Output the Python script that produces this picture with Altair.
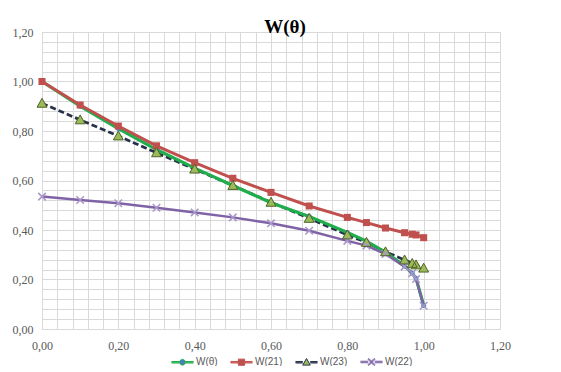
import altair as alt
import pandas as pd

# ---- data ----
theta = [0.00, 0.10, 0.20, 0.30, 0.40, 0.50, 0.60, 0.70, 0.80, 0.85, 0.90, 0.95, 0.97, 0.98, 1.00]
w_theta = [1.000, 0.900, 0.810, 0.725, 0.650, 0.580, 0.510, 0.455, 0.390, 0.355, 0.310, 0.255, 0.225, 0.205, 0.095]
w_21 = [1.000, 0.905, 0.820, 0.740, 0.672, 0.609, 0.552, 0.497, 0.451, 0.430, 0.408, 0.389, 0.383, 0.380, 0.369]
w_23 = [0.912, 0.845, 0.780, 0.712, 0.646, 0.580, 0.512, 0.447, 0.380, 0.350, 0.312, 0.279, 0.265, 0.259, 0.246]
w_22 = [0.535, 0.521, 0.508, 0.490, 0.471, 0.451, 0.427, 0.397, 0.356, 0.337, 0.303, 0.252, 0.225, 0.202, 0.094]

series_names = ["W(θ)", "W(21)", "W(23)", "W(22)"]
series_values = [w_theta, w_21, w_23, w_22]

major_ticks = [0.0, 0.2, 0.4, 0.6, 0.8, 1.0, 1.2]
minor_grid = [round(i * 0.04, 2) for i in range(31)]

line_colors = ["#1fae4b", "#c0504d", "#27324a", "#7f63a6"]
line_widths = [3.2, 2.5, 2.0, 2.5]
marker_fill = ["#4a7ebb", "#c0504d", "#9bbb59", "#a898c8"]

# marker shapes (unit = half of sqrt(size))
EXT = "M-1,0L-1,0M1,0L1,0"
CIRCLE = "M-0.23,0A0.23,0.23 0 1,0 0.23,0A0.23,0.23 0 1,0 -0.23,0Z"
SQUARE = "M-0.32,-0.32L0.32,-0.32L0.32,0.32L-0.32,0.32Z"
TRIANGLE = "M0,-0.45L0.45,0.36L-0.45,0.36Z"
XMARK = ("M-0.29,-0.39L0.39,0.29L0.29,0.39L-0.39,-0.29Z"
         "M-0.39,0.29L0.29,-0.39L0.39,-0.29L-0.29,0.39Z")
marker_paths = [EXT + CIRCLE, EXT + SQUARE, EXT + TRIANGLE, EXT + XMARK]


def legend_line(r):
    segs = ""
    for dy in (-0.07, 0.0, 0.07):
        segs += f"M-1,{dy}L{-r},{dy}M{r},{dy}L1,{dy}"
    return segs


LEG_CIRCLE = "M-0.26,0A0.26,0.26 0 1,0 0.26,0A0.26,0.26 0 1,0 -0.26,0Z"
LEG_SQUARE = "M-0.28,-0.28L0.28,-0.28L0.28,0.28L-0.28,0.28Z"
LEG_TRIANGLE = "M0,-0.34L0.34,0.26L-0.34,0.26Z"
LEG_X = ("M-0.24,-0.32L0.32,0.24L0.24,0.32L-0.32,-0.24Z"
         "M-0.32,0.24L0.24,-0.32L0.32,-0.24L-0.24,0.32Z")
legend_paths = [legend_line(0.26) + LEG_CIRCLE,
                legend_line(0.28) + LEG_SQUARE,
                legend_line(0.34) + LEG_TRIANGLE,
                legend_line(0.30) + LEG_X]

rows = []
for name, vals in zip(series_names, series_values):
    for t, v in zip(theta, vals):
        rows.append({"x": t, "y": v, "series": name})
df = pd.DataFrame(rows)

label_expr = "replace(format(datum.value, '.2f'), '.', ',')"

grid_color = "#d9d9d9"
label_font = "Liberation Serif"
xs = alt.Scale(domain=[0, 1.2], nice=False)
ys = alt.Scale(domain=[0, 1.2], nice=False)

major_x = alt.Axis(values=major_ticks, labelExpr=label_expr, title=None, orient="bottom",
                   grid=True, gridColor=grid_color, ticks=False, domainColor=grid_color,
                   labelFont=label_font, labelFontSize=12, labelColor="#595959",
                   labelPadding=11, labelFlush=False, labelOverlap=False)
major_y = alt.Axis(values=major_ticks, labelExpr=label_expr, title=None, orient="left",
                   grid=True, gridColor=grid_color, ticks=False, domainColor=grid_color,
                   labelFont=label_font, labelFontSize=12, labelColor="#595959",
                   labelPadding=9, labelOverlap=False, labelFlush=False)
minor_x = alt.Axis(values=minor_grid, labels=False, ticks=False, domain=False, title=None,
                   orient="bottom", grid=True, gridColor=grid_color)
minor_y = alt.Axis(values=minor_grid, labels=False, ticks=False, domain=False, title=None,
                   orient="left", grid=True, gridColor=grid_color)

SYM = 484
leg = alt.Legend(orient="none", legendX=129, legendY=318, direction="horizontal",
                 title=None, symbolSize=SYM, symbolStrokeWidth=1, symbolOpacity=1,
                 symbolFillColor="#ffffff", symbolStrokeColor="#000000",
                 labelFont="Liberation Sans", labelFontSize=10, labelColor="#595959",
                 labelOffset=2, columnPadding=10)

color_scale = alt.Scale(domain=series_names, range=line_colors)
width_scale = alt.Scale(domain=series_names, range=line_widths)

dashed_line = alt.Chart(df).transform_filter(alt.datum.series == "W(23)").mark_line(
    strokeDash=[6, 3]
).encode(
    x=alt.X("x:Q", scale=xs, axis=major_x),
    y=alt.Y("y:Q", scale=ys, axis=major_y),
    color=alt.Color("series:N", scale=color_scale, legend=None),
    strokeWidth=alt.StrokeWidth("series:N", scale=width_scale, legend=None),
    order="x:Q",
)

solid_lines = alt.Chart(df).transform_filter(alt.datum.series != "W(23)").mark_line().encode(
    x=alt.X("x:Q", scale=xs),
    y=alt.Y("y:Q", scale=ys),
    color=alt.Color("series:N", scale=color_scale, legend=None),
    strokeWidth=alt.StrokeWidth("series:N", scale=width_scale, legend=None),
    order="x:Q",
)

points = alt.Chart(df).mark_point(filled=True, opacity=1, size=SYM, strokeWidth=0).encode(
    x=alt.X("x:Q", scale=xs, axis=minor_x),
    y=alt.Y("y:Q", scale=ys, axis=minor_y),
    fill=alt.Fill("series:N", scale=alt.Scale(domain=series_names, range=marker_fill),
                  legend=None),
    shape=alt.Shape("series:N", scale=alt.Scale(domain=series_names, range=marker_paths),
                    legend=None),
)

tri_outline = alt.Chart(df).transform_filter(alt.datum.series == "W(23)").mark_point(
    filled=False, shape=EXT + TRIANGLE, size=SYM, strokeWidth=1, color="#4f6228", opacity=1
).encode(x=alt.X("x:Q", scale=xs, axis=None), y=alt.Y("y:Q", scale=ys, axis=None))

legend_layer = alt.Chart(df).mark_point(filled=True, opacity=0, size=SYM).encode(
    x=alt.X("x:Q", scale=xs, axis=None),
    y=alt.Y("y:Q", scale=ys, axis=None),
    fill=alt.Fill("series:N", scale=alt.Scale(domain=series_names, range=marker_fill),
                  legend=leg),
    stroke=alt.Stroke("series:N", scale=alt.Scale(domain=series_names, range=line_colors),
                      legend=leg),
    shape=alt.Shape("series:N", scale=alt.Scale(domain=series_names, range=legend_paths),
                    legend=leg),
)

lines = alt.layer(dashed_line, solid_lines)

chart = alt.layer(lines, points, tri_outline, legend_layer).resolve_scale(
    fill="independent", stroke="independent", shape="independent"
).resolve_legend(
    fill="independent", stroke="independent", shape="independent"
).resolve_axis(
    x="independent", y="independent"
).properties(
    width=458, height=297,
    autosize=alt.AutoSizeParams(type="none"),
    padding={"left": 34, "top": 24, "right": 50, "bottom": 37},
    title=alt.Title("W(θ)", font="Liberation Serif", fontSize=19, fontWeight="bold",
                    color="#000000", anchor="middle", dx=14, dy=26, offset=0,
                    baseline="alphabetic"),
).configure_view(stroke=None).configure(background="white")

chart.save("out.html", embed_options={"renderer": "svg", "actions": False})
